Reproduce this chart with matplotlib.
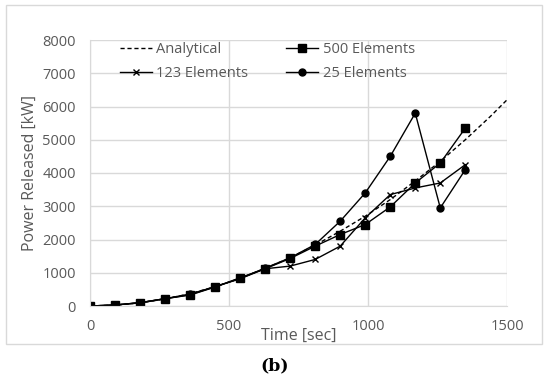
import matplotlib
matplotlib.use("Agg")
import matplotlib.pyplot as plt
from matplotlib.patches import Rectangle

plt.rcParams['font.family'] = ['Open Sans', 'DejaVu Sans']

time_num = [0, 90, 180, 270, 360, 450, 540, 630, 720, 810, 900, 990, 1080, 1170, 1260, 1350]
time_ana = [0, 90, 180, 270, 360, 450, 540, 630, 720, 810, 900, 990, 1080, 1170, 1260, 1350, 1440, 1500]
p_ana = [0, 25, 95, 210, 370, 580, 830, 1130, 1450, 1830, 2250, 2700, 3200, 3760, 4350, 5000, 5700, 6200]
p_500 = [0, 30, 95, 220, 330, 570, 850, 1120, 1430, 1800, 2150, 2450, 2980, 3700, 4300, 5350]
p_123 = [0, 30, 100, 220, 340, 580, 820, 1120, 1200, 1400, 1800, 2650, 3350, 3550, 3700, 4250]
p_25 = [0, 30, 100, 220, 360, 580, 830, 1140, 1450, 1850, 2550, 3400, 4500, 5800, 2950, 4100]

x_ticks = [0, 500, 1000, 1500]
y_ticks = [0, 1000, 2000, 3000, 4000, 5000, 6000, 7000, 8000]

fig = plt.figure(figsize=(5.5, 3.82), dpi=100)
W, H = 550, 382
ax = fig.add_axes([90/W, 1-306/H, (507-90)/W, (306-40)/H])

tick_col = '#595959'
grid_col = '#d9d9d9'

l_ana, = ax.plot(time_ana, p_ana, color='black', lw=1, ls=(0, (3, 2)), label='Analytical')
l_500, = ax.plot(time_num, p_500, color='black', lw=1, marker='s', ms=5.5, label='500 Elements')
l_123, = ax.plot(time_num, p_123, color='black', lw=1, marker='x', ms=5, mew=1, label='123 Elements')
l_25, = ax.plot(time_num, p_25, color='black', lw=1, marker='o', ms=5, label='25 Elements')

ax.set_xlim(0, 1500)
ax.set_ylim(0, 8000)
ax.set_xticks(x_ticks)
ax.set_yticks(y_ticks)
ax.grid(True, color=grid_col, lw=1)
ax.set_axisbelow(True)
for s in ['top', 'right']:
    ax.spines[s].set_visible(False)
ax.spines['left'].set_color(grid_col)
ax.spines['bottom'].set_color(grid_col)
ax.tick_params(length=0, colors=tick_col, labelsize=10.5, pad=10)
ax.tick_params(axis='x', pad=9)

ax.set_ylabel('Power Released [kW]', color=tick_col, fontsize=11.5, labelpad=3)
ax.set_xlabel('Time [sec]', color=tick_col, fontsize=11.5, labelpad=-4)

ax.legend([l_ana, l_123, l_500, l_25],
          ['Analytical', '123 Elements', '500 Elements', '25 Elements'],
          ncol=2, loc='upper left', bbox_to_anchor=(0.04, 1.04), frameon=False,
          fontsize=10.5, labelcolor=tick_col, handlelength=2.2, handletextpad=0.3,
          columnspacing=2.6, labelspacing=0.6)

# chart border and caption
fig.add_artist(Rectangle((6/W, 1-344/H), (542-6)/W, (344-5)/H, transform=fig.transFigure,
                         fill=False, edgecolor=grid_col, lw=1))
fig.text(0.5, 1-366/H, '(b)', ha='center', va='center', fontsize=12.5,
         fontweight='bold', family='DejaVu Serif')

fig.savefig('out.png', dpi=100)
